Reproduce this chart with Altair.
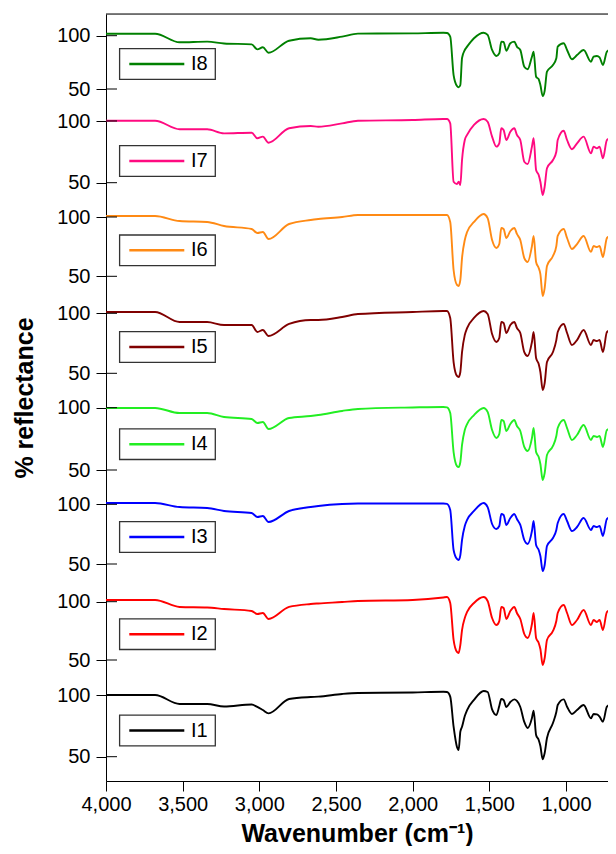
import altair as alt
import pandas as pd

# ---------------- data ----------------
SERIES = ["I1", "I2", "I3", "I4", "I5", "I6", "I7", "I8"]
COLORS = ["#000000", "#ff0000", "#0000ff", "#22ee22", "#800000", "#ff8a14", "#ff0a80", "#008000"]

WN = [4000, 3680, 3520, 3340, 3230, 3050, 3013, 2977, 2940, 2806, 2665, 2615, 2460, 2357, 2000,
      1800, 1776, 1755, 1733, 1711, 1700, 1689, 1678, 1660, 1645, 1600, 1537, 1511, 1482, 1454,
      1435, 1422, 1407, 1389, 1363, 1337, 1320, 1298, 1272, 1250, 1222, 1211, 1195, 1178, 1167,
      1152, 1139, 1124, 1085, 1063, 1054, 1015, 993, 961, 928, 885, 837, 820, 798, 781, 759, 733, 672]

I1 = [100.2, 100.2, 92.9, 92.9, 90.9, 92.5, 90.5, 88.0, 85.3, 97.0, 98.6, 98.9, 101.1, 101.9, 102.3,
      102.9, 102.7, 98.9, 74.4, 57.9, 55.5, 70.4, 74.4, 83.1, 88.0, 96.2, 103.5, 102.7, 88.6, 84.0,
      91.3, 97.0, 96.2, 90.5, 94.5, 96.7, 95.4, 90.5, 78.3, 73.4, 81.5, 87.5, 67.7, 63.6, 58.7,
      47.9, 53.0, 65.2, 77.4, 86.4, 92.1, 96.7, 90.7, 84.8, 88.0, 92.1, 81.3, 84.8, 84.4, 82.6, 78.5, 90.7, 94.8]
I2 = [101.5, 101.5, 95.5, 95.0, 93.7, 92.0, 89.4, 90.3, 85.2, 95.5, 98.0, 98.5, 99.7, 100.6, 101.5,
      103.6, 104.0, 98.9, 67.2, 56.9, 56.0, 62.9, 75.7, 86.0, 91.2, 98.9, 104.0, 100.6, 86.0, 80.0,
      83.4, 95.5, 94.6, 85.2, 92.0, 95.5, 90.3, 85.2, 72.3, 68.9, 80.9, 90.3, 68.9, 64.6, 59.4,
      45.7, 51.7, 67.2, 74.9, 83.4, 90.3, 97.2, 90.3, 80.0, 84.3, 92.9, 80.0, 84.3, 82.6, 84.3, 75.7, 91.2, 94.6]
I3 = [101.1, 101.1, 97.7, 96.9, 94.4, 92.7, 89.4, 90.2, 85.2, 94.4, 97.7, 98.6, 100.3, 100.7, 100.7,
      100.7, 100.3, 95.2, 61.7, 54.2, 53.4, 57.5, 70.1, 81.8, 86.9, 94.4, 101.1, 97.7, 83.5, 79.3,
      81.8, 91.9, 91.0, 82.7, 88.5, 91.9, 87.7, 82.7, 70.1, 66.8, 77.6, 86.0, 65.9, 61.7, 56.7,
      44.1, 49.2, 65.1, 71.8, 78.5, 84.3, 91.9, 86.0, 77.6, 81.0, 88.5, 78.5, 81.8, 81.0, 81.8, 73.5, 87.7, 91.0]
I4 = [99.8, 99.8, 95.7, 95.7, 92.5, 90.9, 87.7, 88.5, 82.9, 91.7, 93.3, 94.1, 97.4, 99.0, 100.2,
      100.6, 100.2, 95.7, 64.4, 53.2, 52.4, 56.4, 70.1, 82.1, 86.9, 94.1, 99.8, 96.6, 82.1, 75.7,
      78.9, 90.1, 89.3, 81.3, 86.9, 90.1, 85.3, 81.3, 68.5, 65.2, 75.7, 83.7, 64.4, 60.4, 54.8,
      42.0, 47.6, 62.0, 69.3, 77.3, 83.7, 90.1, 83.7, 74.1, 78.1, 86.1, 74.1, 77.3, 76.5, 77.3, 68.5, 82.1, 84.5]
I5 = [101.1, 101.1, 92.7, 92.7, 90.2, 90.2, 84.4, 86.1, 81.1, 91.1, 94.4, 94.4, 96.9, 99.4, 101.1,
      101.9, 101.9, 96.1, 59.4, 47.8, 46.9, 51.1, 67.7, 81.9, 87.7, 96.1, 101.9, 99.4, 82.7, 76.1,
      79.4, 92.7, 91.9, 83.6, 90.2, 92.7, 87.7, 83.6, 67.7, 64.4, 76.1, 84.4, 62.7, 57.7, 51.1,
      36.1, 41.9, 59.4, 67.7, 77.7, 84.4, 91.1, 83.6, 73.6, 77.7, 86.1, 73.6, 77.7, 76.9, 77.7, 67.7, 84.4, 87.7]
I6 = [100.8, 100.8, 96.6, 95.8, 92.4, 89.9, 86.5, 87.3, 81.4, 94.1, 97.5, 98.3, 100.0, 101.7, 101.7,
      101.7, 101.7, 95.8, 55.3, 42.7, 41.8, 46.9, 65.4, 80.6, 87.3, 95.8, 102.5, 99.1, 80.6, 73.9,
      77.2, 90.7, 89.9, 82.3, 88.2, 90.7, 85.7, 80.6, 65.4, 62.1, 75.5, 84.0, 62.1, 57.0, 51.9,
      33.4, 40.1, 58.7, 67.1, 75.5, 84.0, 89.9, 82.3, 73.0, 77.2, 84.0, 70.6, 75.5, 74.7, 75.5, 66.3, 82.3, 86.5]
I7 = [100.2, 100.2, 93.3, 93.3, 90.0, 90.5, 86.0, 87.3, 82.4, 94.1, 95.9, 95.4, 98.1, 100.2, 100.8,
      101.6, 101.6, 98.1, 50.8, 48.9, 50.8, 48.1, 68.4, 84.6, 88.7, 96.8, 101.6, 99.4, 87.3, 79.2,
      81.9, 94.1, 92.7, 84.6, 91.3, 94.1, 88.7, 84.6, 67.0, 65.2, 79.2, 86.0, 60.3, 56.2, 50.8,
      40.0, 46.8, 61.7, 68.4, 75.1, 84.6, 92.1, 84.6, 77.1, 81.9, 87.3, 73.8, 79.2, 77.9, 79.2, 69.8, 84.6, 87.8]
I8 = [101.9, 101.9, 93.8, 94.4, 92.7, 91.9, 87.2, 89.1, 84.0, 95.3, 97.6, 96.2, 99.1, 101.9, 102.2,
      102.7, 102.5, 99.1, 63.1, 52.8, 51.6, 53.8, 79.1, 86.6, 89.7, 97.6, 102.8, 100.7, 86.6, 81.0,
      83.5, 94.4, 94.1, 85.9, 92.9, 94.4, 89.7, 86.6, 70.9, 68.5, 80.3, 85.0, 61.5, 59.1, 53.8,
      43.4, 48.4, 66.2, 72.5, 78.8, 89.7, 92.9, 86.6, 77.9, 81.9, 86.6, 75.6, 80.3, 81.0, 79.7, 72.5, 85.0, 89.7]
VALUES = [I1, I2, I3, I4, I5, I6, I7, I8]

X_TICKS = [4000, 3500, 3000, 2500, 2000, 1500, 1000]

# ---------------- layout (stack offsets, in plot pixels from the bottom) ----------------
PLOT_W, PLOT_H = 502, 767
X_RIGHT = 726
PANEL_50 = [24.3, 121, 217, 311, 407.7, 504.7, 598.3, 692]       # where "50" sits in each panel
PANEL_100 = [85.7, 179.3, 276.7, 373.3, 467.7, 564, 660, 745.3]  # where "100" sits in each panel
LEGEND_MID = [50.5, 146.8, 244, 336.8, 434, 530.7, 620, 717]
FONT = "Liberation Sans"

rows = []
for name, vals, y50, y100 in zip(SERIES, VALUES, PANEL_50, PANEL_100):
    assert len(vals) == len(WN)
    for w, v in zip(WN, vals):
        rows.append({"series": name, "wn": w, "value": v,
                     "disp": y50 + (v - 50) * (y100 - y50) / 50})
df = pd.DataFrame(rows)

tick_pos = sorted(PANEL_50 + PANEL_100)
ticks_df = pd.DataFrame({"pos": tick_pos})
leg_df = pd.DataFrame({"series": SERIES, "mid": LEGEND_MID})

label_expr = "indexof([" + ",".join(str(p) for p in PANEL_50) + "], datum.value) >= 0 ? '50' : '100'"

xscale = alt.Scale(domain=[X_RIGHT, 4000], reverse=True, nice=False, zero=False)
yscale = alt.Scale(domain=[0, PLOT_H], nice=False, zero=False)
cscale = alt.Scale(domain=SERIES, range=COLORS)

xaxis = alt.Axis(values=X_TICKS, format=",d", tickSize=10, labelFontSize=20, labelPadding=3,
                 labelFont=FONT, labelColor="black", title="Wavenumber (cm⁻¹)", titleFont=FONT,
                 titleFontSize=25, titleFontWeight="bold", titleColor="black", titlePadding=7,
                 grid=False, domainColor="black", tickColor="black", labelFlush=False, labelOverlap=False)
yaxis = alt.Axis(values=tick_pos, labelExpr=label_expr, tickSize=10, labelFontSize=20, labelPadding=6,
                 labelFont=FONT, labelColor="black", title="% reflectance", titleFont=FONT,
                 titleFontSize=25, titleFontWeight="bold", titleColor="black", titlePadding=19,
                 grid=False, domainColor="black", tickColor="black", labelOverlap=False)

lines = alt.Chart(df).mark_line(interpolate="monotone", strokeWidth=1.9, clip=True).encode(
    x=alt.X("wn:Q", scale=xscale, axis=xaxis),
    y=alt.Y("disp:Q", scale=yscale, axis=yaxis),
    color=alt.Color("series:N", scale=cscale, legend=None),
    detail="series:N",
)

inner_ticks = alt.Chart(ticks_df).mark_rule(color="black", strokeWidth=1).encode(
    x=alt.value(0), x2=alt.value(11),
    y=alt.Y("pos:Q", scale=yscale, axis=yaxis),
)

top_line = alt.Chart(pd.DataFrame({"k": [0]})).mark_rule(color="black", strokeWidth=1).encode(
    x=alt.value(0), x2=alt.value(PLOT_W), y=alt.value(0)
)

boxes = alt.Chart(leg_df).transform_calculate(
    top="datum.mid + 15.3", bot="datum.mid - 15.3"
).mark_rect(fill="white", stroke="#333333", strokeWidth=1.3).encode(
    x=alt.value(13.6), x2=alt.value(109.3),
    y=alt.Y("top:Q", scale=yscale, axis=yaxis), y2="bot:Q",
)

samples = alt.Chart(leg_df).mark_rule(strokeWidth=2.6).encode(
    x=alt.value(23.3), x2=alt.value(78.3),
    y=alt.Y("mid:Q", scale=yscale, axis=yaxis),
    color=alt.Color("series:N", scale=cscale, legend=None),
)

labels = alt.Chart(leg_df).mark_text(align="left", baseline="middle", fontSize=20, font=FONT,
                                     color="black").encode(
    x=alt.value(85), y=alt.Y("mid:Q", scale=yscale, axis=yaxis), text="series:N"
)

chart = alt.layer(lines, inner_ticks, top_line, boxes, samples, labels).properties(
    width=PLOT_W, height=PLOT_H,
    autosize=alt.AutoSizeParams(type="none"),
    padding={"left": 98, "top": 6, "right": 0, "bottom": 65},
).configure_view(stroke=None).configure(background="white")

chart.save("out.html", embed_options={"renderer": "svg", "actions": False})
